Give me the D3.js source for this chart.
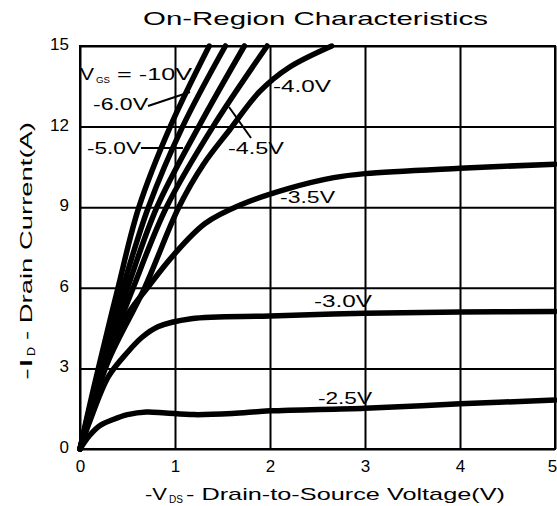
<!DOCTYPE html>
<html>
<head>
<meta charset="utf-8">
<title>On-Region Characteristics</title>
<script src="https://cdn.jsdelivr.net/npm/d3@7"></script>
<style>
    body { margin: 0; background: #fff; }
    svg { display: block; font-family: "Liberation Sans", Arial, sans-serif; }
    .grid line { stroke: #000; stroke-width: 2; }
    .grid path { display: none; }
    .tick text { fill: #000; }
    .curve { fill: none; stroke: #000; stroke-width: 5.5; stroke-linejoin: round; stroke-linecap: round; }
    .lbl { font-size: 16px; fill: #000; }
    .lead { stroke: #000; stroke-width: 2; }
</style>
</head>
<body>
<div id="chart"></div>
<script>
// tick labels
var xTicks = [0, 1, 2, 3, 4, 5];
var yTicks = [0, 3, 6, 9, 12, 15];

// gate voltage series (VDS in V, ID in A)
var vgsNames = ["-10V", "-6.0V", "-5.0V", "-4.5V", "-4.0V", "-3.5V", "-3.0V", "-2.5V"];

var vds10 = [0, 0.1, 0.2, 0.4, 0.62, 0.95, 1.36];
var id10  = [0, 1.6, 3.1, 6.0, 9.0, 12.0, 15.0];

var vds6 = [0, 0.1, 0.21, 0.45, 0.72, 1.08, 1.53];
var id6  = [0, 1.5, 3.0, 6.0, 9.0, 12.0, 15.0];

var vds5 = [0, 0.1, 0.25, 0.5, 0.81, 1.25, 1.73];
var id5  = [0, 1.4, 3.3, 6.0, 9.0, 12.0, 15.0];

var vds45 = [0, 0.1, 0.27, 0.56, 0.91, 1.4, 1.97];
var id45  = [0, 1.3, 3.3, 6.0, 9.0, 12.0, 15.0];

var vds40 = [0, 0.1, 0.3, 0.68, 1.04, 1.3, 1.58, 1.89, 2.2, 2.65];
var id40  = [0, 1.2, 3.3, 6.0, 9.0, 10.6, 11.9, 13.3, 14.2, 15.0];

var vds35 = [0, 0.1, 0.25, 0.5, 0.71, 0.98, 1.32, 1.7, 2.2, 2.67, 3.0, 4.0, 5.0];
var id35  = [0, 1.2, 3.1, 5.0, 6.0, 7.2, 8.4, 9.1, 9.7, 10.1, 10.25, 10.45, 10.6];

var vds30 = [0, 0.1, 0.3, 0.5, 0.65, 0.82, 1.17, 2.0, 3.0, 4.0, 5.0];
var id30  = [0, 1.0, 2.7, 3.6, 4.15, 4.55, 4.85, 4.95, 5.05, 5.1, 5.12];

var vds25 = [0, 0.1, 0.2, 0.35, 0.5, 0.7, 0.9, 1.2, 1.6, 2.0, 3.0, 4.0, 5.0];
var id25  = [0, 0.5, 0.85, 1.1, 1.28, 1.38, 1.34, 1.28, 1.32, 1.42, 1.52, 1.68, 1.82];

var seriesX = [vds10, vds6, vds5, vds45, vds40, vds35, vds30, vds25];
var seriesY = [id10, id6, id5, id45, id40, id35, id30, id25];

var W = 557, H = 506;
var pL = 80, pR = 555, pT = 46, pB = 449;

var svg = d3.select("#chart").append("svg")
    .attr("width", W)
    .attr("height", H);

var x = d3.scaleLinear().domain([0, 5]).range([pL, pR]);
var y = d3.scaleLinear().domain([0, 15]).range([pB, pT]);

// grid
svg.append("g")
    .attr("class", "grid")
    .attr("transform", "translate(0," + pB + ")")
    .call(d3.axisBottom(x).tickValues(xTicks).tickSize(-(pB - pT)).tickFormat(""));
svg.append("g")
    .attr("class", "grid")
    .attr("transform", "translate(" + pL + ",0)")
    .call(d3.axisLeft(y).tickValues(yTicks).tickSize(-(pR - pL)).tickFormat(""));

svg.append("rect")
    .attr("x", pL).attr("y", pT)
    .attr("width", pR - pL).attr("height", pB - pT)
    .attr("fill", "none").attr("stroke", "#000").attr("stroke-width", 2);

// tick labels
var xAx = svg.append("g")
    .attr("transform", "translate(0," + pB + ")")
    .call(d3.axisBottom(x).tickValues(xTicks).tickSize(0).tickPadding(11).tickFormat(d3.format("d")));
xAx.select(".domain").remove();
xAx.selectAll("text").style("font-size", "17px").style("font-family", "Liberation Sans, Arial, sans-serif");
xAx.selectAll("text").filter(function(d) { return d === 5; }).attr("dx", "-3");

var yAx = svg.append("g")
    .attr("transform", "translate(" + pL + ",-2)")
    .call(d3.axisLeft(y).tickValues(yTicks).tickSize(0).tickPadding(11).tickFormat(d3.format("d")));
yAx.select(".domain").remove();
yAx.selectAll("text").style("font-size", "17px").style("font-family", "Liberation Sans, Arial, sans-serif");

// curves
var line = d3.line()
    .x(function(d) { return x(d[0]); })
    .y(function(d) { return y(d[1]); })
    .curve(d3.curveCatmullRom.alpha(0.5));

svg.selectAll(".curve")
    .data(vgsNames)
    .enter().append("path")
    .attr("class", "curve")
    .attr("d", function(name, i) {
        return line(d3.zip(seriesX[i], seriesY[i]));
    });

// helper for stretched text
function txt(s, x0, x1, yb, size) {
    return svg.append("text")
        .attr("class", "lbl")
        .attr("x", x0).attr("y", yb)
        .attr("textLength", x1 - x0)
        .attr("lengthAdjust", "spacingAndGlyphs")
        .style("font-size", size + "px")
        .text(s);
}

// title
txt("On-Region Characteristics", 143, 488, 25, 19);

// curve labels
txt("V", 80, 94, 80, 16);
txt("GS", 96, 110, 83, 9);
txt("= -10V", 117, 192, 80, 16);
txt("-6.0V", 93, 148, 110, 16);
txt("-5.0V", 87, 141, 154, 16);
txt("-4.5V", 228, 284, 154, 16);
txt("-4.0V", 273, 331, 92, 16);
txt("-3.5V", 280, 335, 203, 16);
txt("-3.0V", 314, 372, 307, 16);
txt("-2.5V", 318, 372, 404, 16);

svg.append("line").attr("class", "lead").attr("x1", 148).attr("y1", 106).attr("x2", 190).attr("y2", 92);
svg.append("line").attr("class", "lead").attr("x1", 141).attr("y1", 148).attr("x2", 183).attr("y2", 148);
svg.append("line").attr("class", "lead").attr("x1", 229).attr("y1", 107).attr("x2", 251).attr("y2", 138);

// x axis title
txt("-V", 145, 167, 500, 17);
txt("DS", 169, 183, 503, 10);
txt(" - Drain-to-Source Voltage(V)", 186, 505, 500, 17);

// y axis title, rotated
var yt = svg.append("g").attr("transform", "translate(32,380) rotate(-90)");
function ytxt(s, x0, x1, yb, size) {
    yt.append("text")
        .attr("class", "lbl")
        .attr("x", x0).attr("y", yb)
        .attr("textLength", x1 - x0)
        .attr("lengthAdjust", "spacingAndGlyphs")
        .style("font-size", size + "px")
        .text(s);
}
ytxt("-I", 0, 22, 0, 17);
ytxt("D", 24, 33, 3, 10);
ytxt("- Drain Current(A)", 40, 258, 0, 17);
</script>
</body>
</html>
